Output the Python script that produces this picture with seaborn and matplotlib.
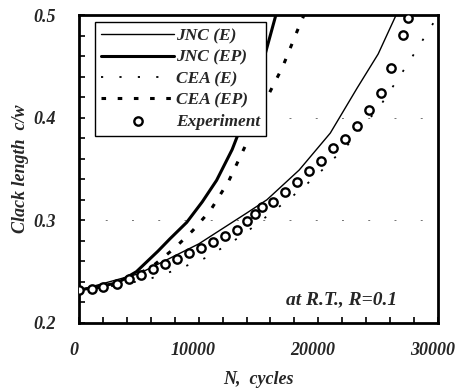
import numpy as np
import pandas as pd
import matplotlib
matplotlib.use("Agg")
import matplotlib.pyplot as plt
import matplotlib.transforms as mtransforms
import seaborn as sns
from matplotlib.ticker import MultipleLocator

sns.set_theme(style="ticks")
plt.rcParams['font.family'] = ['Liberation Serif', 'DejaVu Serif']
plt.rcParams['font.weight'] = 'bold'
plt.rcParams['font.style'] = 'italic'
plt.rcParams['axes.labelweight'] = 'bold'

# ---- data ----
jnc_e_n = [0, 5000, 10000, 14000, 15700, 18400, 21000, 23250, 25000, 26500, 27000]
jnc_e_c = [0.232, 0.248, 0.277, 0.307, 0.320, 0.349, 0.385, 0.429, 0.462, 0.500, 0.512]

jnc_ep_n = [0, 3200, 4800, 6600, 7600, 9000, 10300, 11500, 12800, 14000, 15300, 16500, 17000]
jnc_ep_c = [0.232, 0.239, 0.250, 0.270, 0.282, 0.298, 0.318, 0.339, 0.369, 0.405, 0.451, 0.502, 0.522]

cea_e_n = [0, 3000, 5900, 8200, 10700, 11800, 13600, 17800, 19800, 22500, 25200, 27400, 29500, 30000]
cea_e_c = [0.232, 0.236, 0.243, 0.252, 0.264, 0.272, 0.285, 0.323, 0.343, 0.374, 0.412, 0.451, 0.490, 0.500]

cea_ep_n = [0, 3000, 6000, 8000, 9500, 11000, 12500, 14000, 15600, 17000, 18500, 19000]
cea_ep_c = [0.232, 0.237, 0.254, 0.273, 0.290, 0.310, 0.338, 0.375, 0.417, 0.449, 0.492, 0.505]

exp_n = [0, 1100, 2000, 3200, 4200, 5200, 6200, 7200, 8200, 9200, 10200, 11200,
         12200, 13200, 14000, 14700, 15300, 16200, 17200, 18200, 19200, 20200,
         21200, 22200, 23200, 24200, 25200, 26100, 27100, 27500]
exp_c = [0.232, 0.233, 0.235, 0.238, 0.243, 0.247, 0.253, 0.257, 0.262, 0.268,
         0.273, 0.279, 0.285, 0.291, 0.299, 0.306, 0.313, 0.318, 0.328, 0.337,
         0.348, 0.358, 0.370, 0.379, 0.392, 0.407, 0.424, 0.448, 0.481, 0.497]

labels = ["JNC (E)", "JNC (EP)", "CEA (E)", "CEA (EP)", "Experiment"]
x_ticks = [0, 10000, 20000, 30000]
y_ticks = [0.2, 0.3, 0.4, 0.5]

fig = plt.figure(figsize=(4.58, 3.90), dpi=100)
ax = fig.add_axes([0.1725, 0.1718, 0.7838, 0.7897])

sns.lineplot(x=jnc_e_n, y=jnc_e_c, ax=ax, color='black', linewidth=1.0,
             linestyle='-', label=labels[0], sort=False)
sns.lineplot(x=jnc_ep_n, y=jnc_ep_c, ax=ax, color='black', linewidth=2.2,
             linestyle='-', label=labels[1], sort=False)
sns.lineplot(x=cea_e_n, y=cea_e_c, ax=ax, color='black', linewidth=1.3,
             linestyle=(0, (1.2, 9)), label=labels[2], sort=False)
sns.lineplot(x=cea_ep_n, y=cea_ep_c, ax=ax, color='black', linewidth=2.2,
             linestyle=(0, (1.5, 3.8)), label=labels[3], sort=False)
sns.scatterplot(x=exp_n, y=exp_c, ax=ax, marker='o', s=36, facecolor='white',
                edgecolor='black', linewidth=1.7, label=labels[4], zorder=5)

ax.set_xlim(0, 30000)
ax.set_ylim(0.2, 0.5)
ax.set_xticks(x_ticks)
ax.set_yticks(y_ticks)
ax.set_xticklabels([str(t) for t in x_ticks])
ax.set_yticklabels([f"{t:.1f}" for t in y_ticks])
ax.xaxis.set_minor_locator(MultipleLocator(2000))
ax.yaxis.set_minor_locator(MultipleLocator(0.02))
ax.tick_params(which='both', direction='in', length=4, width=1.2, color='black',
               labelsize=13)
ax.tick_params(axis='x', pad=14)
ax.tick_params(axis='y', pad=17)
shift = mtransforms.ScaledTranslation(-4 / 72, 0, fig.dpi_scale_trans)
for lab in ax.get_xticklabels():
    lab.set_transform(lab.get_transform() + shift)
for sp in ax.spines.values():
    sp.set_visible(True)
    sp.set_linewidth(2.0)
    sp.set_color('black')
ax.grid(axis='y', which='major', color='0.45', linewidth=0.7, linestyle=(0, (2, 25)))

ax.set_xlabel("N,  cycles", fontsize=13, labelpad=8)
ax.set_ylabel("Clack length  c/w", fontsize=13, labelpad=3)

ax.text(0.886, 0.075, "at R.T., R=0.1", transform=ax.transAxes, ha='right',
        va='center', fontsize=14)

leg = ax.legend(loc='upper left', bbox_to_anchor=(0.045, 0.977), borderaxespad=0,
                frameon=True, fancybox=False, edgecolor='black', framealpha=1,
                fontsize=12.5, handlelength=4.2, handletextpad=0.1,
                labelspacing=0.3, borderpad=0.35)
leg.get_frame().set_linewidth(1.0)

fig.savefig("out.png", dpi=100)
